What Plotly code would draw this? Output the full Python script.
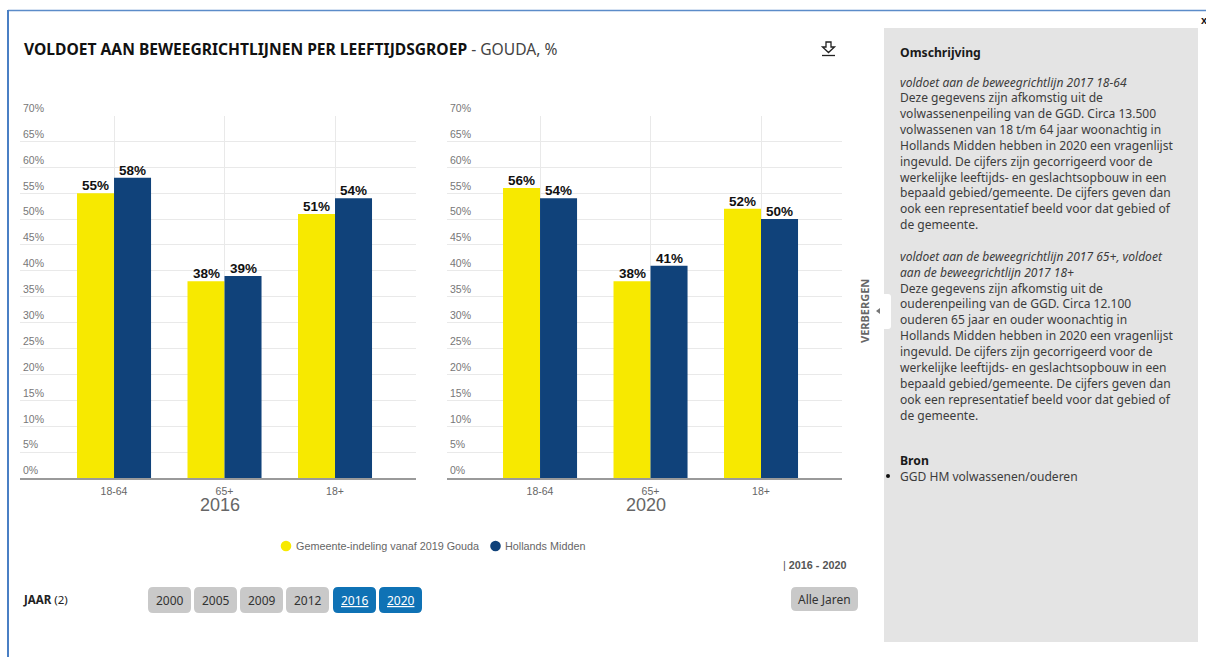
import plotly.graph_objects as go
from plotly.subplots import make_subplots

W, H = 1206, 657
categories = ["18-64", "65+", "18+"]
years = ["2016", "2020"]
gouda_2016 = [55, 38, 51]
midden_2016 = [58, 39, 54]
gouda_2020 = [56, 38, 52]
midden_2020 = [54, 41, 50]
series_names = ["Gemeente-indeling vanaf 2019 Gouda", "Hollands Midden"]
yticks = list(range(0, 75, 5))
ytick_labels = [f"{v}%" for v in yticks]
year_buttons = ["2000", "2005", "2009", "2012", "2016", "2020"]
active_buttons = ["2016", "2020"]
desc_lines_1 = [
    "Deze gegevens zijn afkomstig uit de",
    "volwassenenpeiling van de GGD. Circa 13.500",
    "volwassenen van 18 t/m 64 jaar woonachtig in",
    "Hollands Midden hebben in 2020 een vragenlijst",
    "ingevuld. De cijfers zijn gecorrigeerd voor de",
    "werkelijke leeftijds- en geslachtsopbouw in een",
    "bepaald gebied/gemeente. De cijfers geven dan",
    "ook een representatief beeld voor dat gebied of",
    "de gemeente.",
]
desc_head_2 = ["voldoet aan de beweegrichtlijn 2017 65+, voldoet", "aan de beweegrichtlijn 2017 18+"]
desc_lines_2 = [
    "Deze gegevens zijn afkomstig uit de",
    "ouderenpeiling van de GGD. Circa 12.100",
    "ouderen 65 jaar en ouder woonachtig in",
    "Hollands Midden hebben in 2020 een vragenlijst",
    "ingevuld. De cijfers zijn gecorrigeerd voor de",
    "werkelijke leeftijds- en geslachtsopbouw in een",
    "bepaald gebied/gemeente. De cijfers geven dan",
    "ook een representatief beeld voor dat gebied of",
    "de gemeente.",
]

YELLOW, NAVY = "#f7e900", "#10427a"
ARIAL = "Liberation Sans"
PANEL = "Noto Sans"
HEAD = "Noto Sans"


def px(x):
    return x / W


def py(y):
    return 1 - y / H


fig = make_subplots(rows=1, cols=2)
fig.update_layout(
    xaxis=dict(domain=[px(20), px(416)]),
    xaxis2=dict(domain=[px(447), px(842)]),
    yaxis=dict(domain=[py(478), py(115.5)]),
    yaxis2=dict(domain=[py(478), py(115.5)]),
)

ann = []
series_by_col = [(gouda_2016, midden_2016), (gouda_2020, midden_2020)]
for col, (g, m) in enumerate(series_by_col, start=1):
    for vals, color, name, shift in [(g, YELLOW, series_names[0], -18.5), (m, NAVY, series_names[1], 18.5)]:
        fig.add_trace(go.Bar(
            x=categories, y=vals, name=name, showlegend=False,
            marker=dict(color=color, line=dict(width=0)),
        ), row=1, col=col)
        for c, v in zip(categories, vals):
            ann.append(dict(x=c, y=v, xref=f"x{col if col > 1 else ''}", yref=f"y{col if col > 1 else ''}",
                            text=f"<b>{v}%</b>", showarrow=False, xanchor="center", yanchor="bottom",
                            xshift=shift, yshift=-1, borderpad=0,
                            font=dict(family=ARIAL, size=13.5, color="#111111")))

ranges = [[-0.851, 2.733], [-0.842, 2.733]]
for col in (1, 2):
    fig.update_xaxes(
        row=1, col=col, type="category", categoryorder="array", categoryarray=categories,
        range=ranges[col - 1], showgrid=True, gridcolor="#e9e9e9", gridwidth=1, automargin=False,
        showline=True, linecolor="#9a9a9a", linewidth=2, ticks="", zeroline=False,
        tickfont=dict(family=ARIAL, size=10.5, color="#666666"), ticklabelstandoff=2,
    )
    fig.update_yaxes(
        row=1, col=col, range=[0, 70], tickvals=yticks, ticktext=ytick_labels, automargin=False,
        ticklabelposition="inside top", ticklabeloverflow="allow", showgrid=True,
        gridcolor="#e9e9e9", gridwidth=1, zeroline=False, ticks="", showline=False,
        tickfont=dict(family=ARIAL, size=10.5, color="#777777"),
    )

shapes = []


def text(x, y, s, family=PANEL, size=12.05, color="#3c3c3c", anchor="left", **kw):
    ann.append(dict(x=px(x - 1 if anchor == "left" else x), y=py(y), xref="paper", yref="paper", text=s,
                    showarrow=False, xanchor=anchor, yanchor="middle",
                    font=dict(family=family, size=size, color=color), borderpad=0, **kw))


def rrect(x0, y0, x1, y1, r, fill, layer="below"):
    a, b, c, d = px(x0), py(y0), px(x1), py(y1)
    rx, ry = r / W, r / H
    path = (f"M {a+rx} {b} L {c-rx} {b} Q {c} {b} {c} {b-ry} L {c} {d+ry} Q {c} {d} {c-rx} {d} "
            f"L {a+rx} {d} Q {a} {d} {a} {d+ry} L {a} {b-ry} Q {a} {b} {a+rx} {b} Z")
    shapes.append(dict(type="path", path=path, xref="paper", yref="paper", fillcolor=fill,
                       line=dict(width=0), layer=layer))


def line(x0, y0, x1, y1, color, width):
    shapes.append(dict(type="line", xref="paper", yref="paper", x0=px(x0), y0=py(y0), x1=px(x1), y1=py(y1),
                       line=dict(color=color, width=width)))


# frame
line(8, 10.5, 1206, 10.5, "#5b8cc9", 1.5)
line(8, 10, 8, 657, "#4a7fc4", 2)
# side panel
shapes.append(dict(type="rect", xref="paper", yref="paper", x0=px(884), x1=px(1198), y0=py(642), y1=py(28),
                   fillcolor="#e4e4e4", line=dict(width=0), layer="below"))
rrect(880, 294, 891, 329, 3, "#ffffff")
shapes.append(dict(type="path", xref="paper", yref="paper", fillcolor="#777777", line=dict(width=0),
                   path=f"M {px(876)} {py(311)} L {px(880)} {py(308)} L {px(880)} {py(314)} Z"))

# title
ann.append(dict(x=px(22), y=py(49.5), xref="paper", yref="paper", showarrow=False, xanchor="left", yanchor="middle",
                text="<b>VOLDOET AAN BEWEEGRICHTLIJNEN PER LEEFTIJDSGROEP</b> <span style='color:#444'>- GOUDA, %</span>",
                font=dict(family=HEAD, size=15.6, color="#111111")))
# download icon
shapes.append(dict(type="path", xref="paper", yref="paper", fillcolor="rgba(0,0,0,0)", line=dict(color="#222222", width=1.3),
                   path=" ".join([
                       f"M {px(826)} {py(42)} L {px(831)} {py(42)} L {px(831)} {py(47)} L {px(834.5)} {py(47)}",
                       f"L {px(828.5)} {py(52.5)} L {px(822.5)} {py(47)} L {px(826)} {py(47)} Z"])))
line(822, 55.5, 835, 55.5, "#222222", 1.3)
text(1204, 20, "<b>x</b>", family=ARIAL, size=11, color="#111111", anchor="center")

# year captions under each chart
text(220, 504.5, years[0], family=ARIAL, size=18, color="#666666", anchor="center")
text(646, 504.5, years[1], family=ARIAL, size=18, color="#666666", anchor="center")

# legend
for cx, tx, name, color in [(286, 296, series_names[0], YELLOW), (495.5, 505, series_names[1], NAVY)]:
    shapes.append(dict(type="circle", xref="paper", yref="paper", x0=px(cx - 5.3), x1=px(cx + 5.3),
                       y0=py(546 + 5.3), y1=py(546 - 5.3), fillcolor=color, line=dict(width=0)))
    text(tx, 546, name, family=ARIAL, size=10.8, color="#666666")

# side text
text(900, 52.5, "<b>Omschrijving</b>", size=12.2, color="#1a1a1a")
text(900, 82, "<i>voldoet aan de beweegrichtlijn 2017 18-64</i>")
for i, s in enumerate(desc_lines_1):
    text(900, 97.5 + i * 15.9, s)
for i, s in enumerate(desc_head_2):
    text(900, 256 + i * 16, f"<i>{s}</i>")
for i, s in enumerate(desc_lines_2):
    text(900, 288 + i * 15.9, s)
text(900, 460.5, "<b>Bron</b>", size=12.2, color="#1a1a1a")
text(900, 476, "GGD HM volwassenen/ouderen")
shapes.append(dict(type="circle", xref="paper", yref="paper", x0=px(886), x1=px(890), y0=py(478), y1=py(474),
                   fillcolor="#111111", line=dict(width=0)))
ann.append(dict(x=px(865), y=py(311), xref="paper", yref="paper", showarrow=False, text="<b>VERBERGEN</b>",
                textangle=-90, xanchor="center", yanchor="middle",
                font=dict(family=HEAD, size=11, color="#666666")))

# footer controls
text(23, 599, "<b>JAAR</b> (2)", family=HEAD, size=11.5, color="#222222")
text(783, 565, "| <b>2016 - 2020</b>", family=ARIAL, size=10.8, color="#555555")
btn_x = [148, 194, 240, 286, 333, 379]
for x0, label in zip(btn_x, year_buttons):
    active = label in active_buttons
    rrect(x0, 587, x0 + 43, 613, 5, "#0f72b5" if active else "#c9c9c9")
    text(x0 + 21.5, 600.5, f"<u>{label}</u>" if active else label, family=HEAD, size=12,
         color="#ffffff" if active else "#333333", anchor="center")
rrect(791, 587, 858, 611, 5, "#c9c9c9")
text(824.5, 599.5, "Alle Jaren", family=HEAD, size=12, color="#333333", anchor="center")

fig.update_layout(
    width=W, height=H, margin=dict(l=0, r=0, t=0, b=0), paper_bgcolor="#ffffff", plot_bgcolor="#ffffff",
    barmode="group", bargap=0.33, bargroupgap=0, shapes=shapes, annotations=ann, showlegend=False,
)
fig.write_html("out.html", config={"displayModeBar": False},
               post_script="document.body.style.margin='0';document.body.style.overflow='hidden';")
